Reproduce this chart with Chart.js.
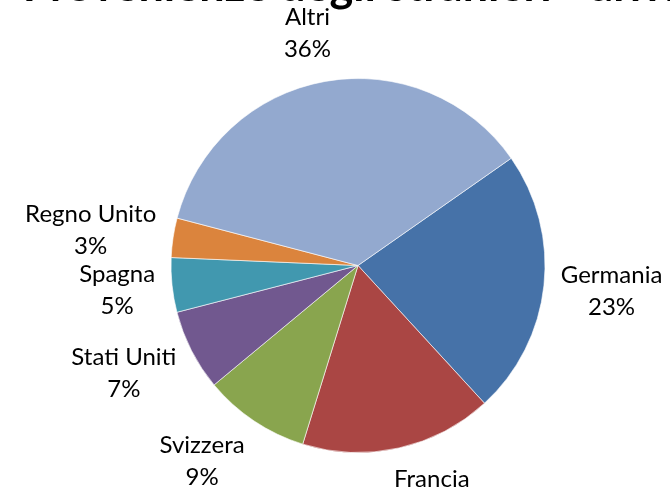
<!DOCTYPE html>
<html>
<head>
<meta charset="utf-8">
<script src="https://cdn.jsdelivr.net/npm/chart.js@4.4.1/dist/chart.umd.min.js"></script>
<style>
  html, body { margin: 0; padding: 0; background: #fff; overflow: hidden; }
  body { width: 670px; height: 501px; position: relative; }
  #wrap { position: absolute; left: 0; top: -41px; width: 716px; height: 542px; }
</style>
</head>
<body>
<div id="wrap"><canvas id="chart"></canvas></div>
<script>
const titleText = 'Provenienze degli stranieri - arrivi'
const countries = ['Germania', 'Francia', 'Svizzera', 'Stati Uniti', 'Spagna', 'Regno Unito', 'Altri']
const shares = [22.9, 16.6, 9.2, 7.0, 4.7, 3.4, 36.2]
const sliceColors = ['#4672A8', '#AA4644', '#89A54E', '#71588F', '#4198AF', '#DB843D', '#93A9CF']

// labels outside the pie: name on one line, percentage below
const outsideLabels = {
    id: 'outsideLabels',
    afterDatasetsDraw(chart) {
        const ctx = chart.ctx
        const meta = chart.getDatasetMeta(0)
        const values = chart.data.datasets[0].data
        const total = values.reduce((a, b) => a + b, 0)
        const lineH = 32
        const gap = 17
        ctx.save()
        ctx.font = '24px Lato'
        ctx.fillStyle = '#000'
        ctx.textAlign = 'center'
        ctx.textBaseline = 'middle'
        meta.data.forEach((arc, i) => {
            const { x, y, startAngle, endAngle, outerRadius } = arc.getProps(['x', 'y', 'startAngle', 'endAngle', 'outerRadius'], true)
            const mid = (startAngle + endAngle) / 2
            const lines = [chart.data.labels[i], Math.round(values[i] / total * 100) + '%']
            const w = Math.max(...lines.map(t => ctx.measureText(t).width))
            const h = lines.length * lineH
            const cos = Math.cos(mid), sin = Math.sin(mid)
            const fx = Math.min(1, Math.abs(cos) * 3.5)
            const cx = x + cos * (outerRadius + gap) + Math.sign(cos) * fx * w / 2
            const cy = y + sin * (outerRadius + gap) + sin * h / 2
            lines.forEach((t, k) => {
                ctx.fillText(t, cx, cy - h / 2 + lineH * (k + 0.5))
            })
        })
        ctx.restore()
    }
}

new Chart(document.getElementById('chart'), {
    type: 'pie',
    data: {
        labels: countries,
        datasets: [{
            data: shares,
            backgroundColor: sliceColors,
            borderColor: 'rgba(255,255,255,0.6)',
            borderWidth: 1
        }]
    },
    options: {
        responsive: true,
        maintainAspectRatio: false,
        animation: false,
        rotation: 55,
        layout: {
            padding: { top: 0, bottom: 48, left: 0, right: 0 }
        },
        plugins: {
            legend: { display: false },
            tooltip: { enabled: false },
            title: {
                display: true,
                text: titleText,
                color: '#000',
                font: { family: 'Lato', size: 45, weight: 'bold', lineHeight: 1.2 },
                padding: { top: 0, bottom: 65 }
            }
        }
    },
    plugins: [outsideLabels]
})
</script>
</body>
</html>
